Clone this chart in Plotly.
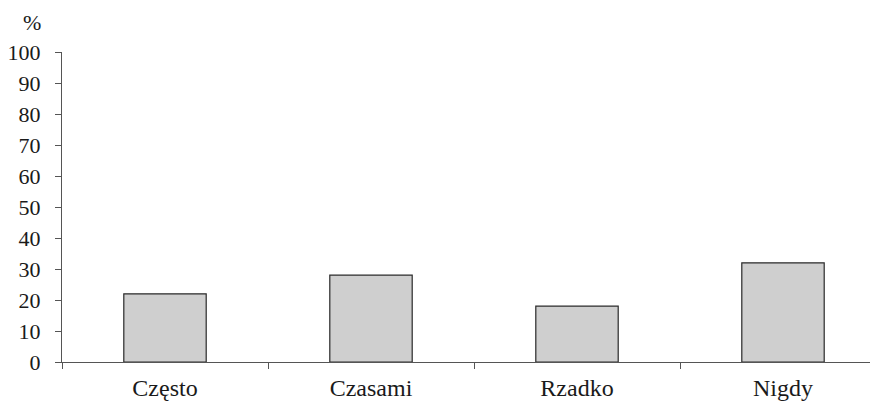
import plotly.graph_objects as go

categories = ["Często", "Czasami", "Rzadko", "Nigdy"]
values = [22, 28, 18, 32]
y_ticks = [0, 10, 20, 30, 40, 50, 60, 70, 80, 90, 100]

# page body has an 8px margin, so the figure is sized to fit the window
W, H = 870, 394
ml, mr, mt, mb = 54, 0, 44, 40
font_family = "'Times New Roman', 'Liberation Serif', 'DejaVu Serif', serif"
fs_x, fs_y = 24, 22

fig = go.Figure(go.Bar(
    x=categories, y=values, width=0.4,
    marker=dict(color="#cfcfcf", line=dict(color="#2a2a2a", width=1.2)),
))

fig.update_layout(
    width=W, height=H,
    margin=dict(l=ml, r=mr, t=mt, b=mb, autoexpand=False),
    plot_bgcolor="white", paper_bgcolor="white",
    font=dict(family=font_family, size=fs_y, color="#1a1a1a"),
    showlegend=False,
    bargap=0.6,
)
fig.update_xaxes(
    range=[-0.5, 3.5 - 8 / 206], showline=True, linecolor="#555555", linewidth=1.2,
    ticks="outside", tickson="boundaries", ticklen=6, tickcolor="#555555",
    showgrid=False, tickfont=dict(size=fs_x, family=font_family), ticklabelstandoff=4,
    automargin=False,
)
fig.update_yaxes(
    range=[0, 100], tickvals=y_ticks, showline=True, linecolor="#555555", linewidth=1.2,
    ticks="outside", ticklen=6, tickcolor="#555555", showgrid=False, zeroline=False,
    tickfont=dict(size=fs_y, family=font_family), ticklabelstandoff=10, automargin=False,
)
fig.add_annotation(
    text="%", xref="paper", yref="paper", x=-(ml - 24) / (W - ml - mr), y=1 + 30 / (H - mt - mb),
    showarrow=False, font=dict(size=fs_y, family=font_family), xanchor="center", yanchor="middle",
)
fig.write_html("out.html")
